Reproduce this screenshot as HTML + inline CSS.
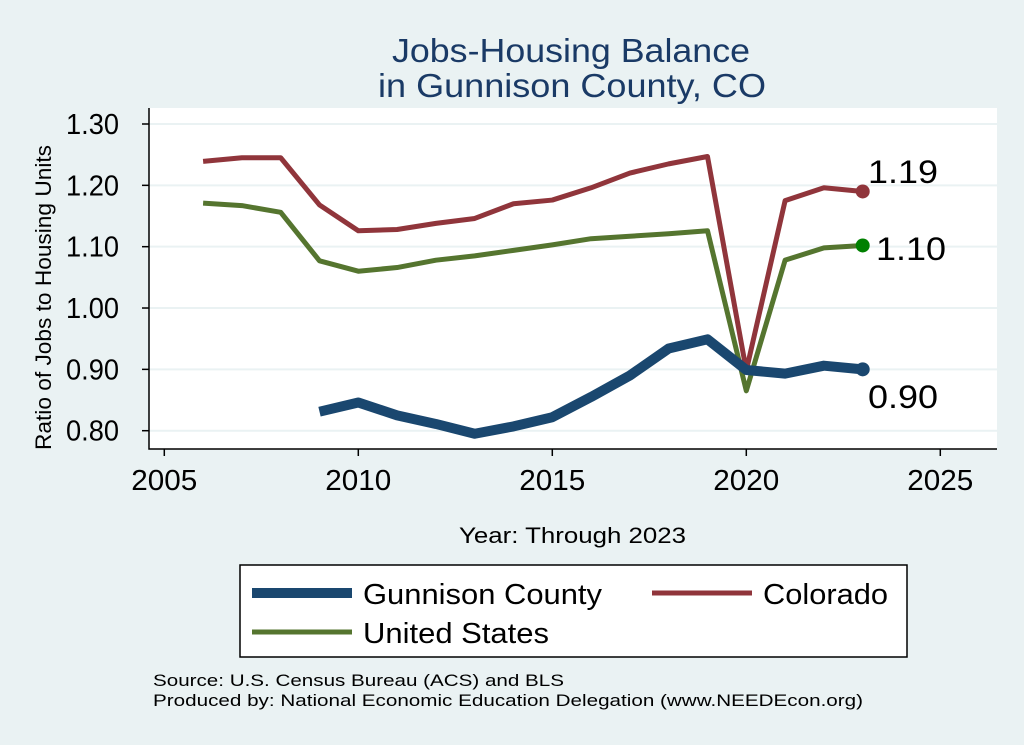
<!DOCTYPE html>
<html><head><style>body{margin:0;background:#eaf2f3}svg{display:block}text{font-family:"Liberation Sans",sans-serif}</style></head><body>
<svg id="s" width="1024" height="745" xmlns="http://www.w3.org/2000/svg">
<rect width="1024" height="745" fill="#eaf2f3"/>
<text x="392" y="62" font-size="33" fill="#1a3a66" textLength="358" lengthAdjust="spacingAndGlyphs">Jobs-Housing Balance</text>
<text x="378" y="97" font-size="33" fill="#1a3a66" textLength="388" lengthAdjust="spacingAndGlyphs">in Gunnison County, CO</text>
<rect x="149" y="108" width="848" height="341" fill="#fff"/>
<g id="grid" stroke="#eaf2f3" stroke-width="2"></g>
<path d="M149 108V449H997" fill="none" stroke="#000" stroke-width="1.5"/>
<g id="ticks"></g>
<g id="lines" fill="none" stroke-linejoin="round"></g>
<text x="51" y="450" font-size="22" transform="rotate(-90 51 450)" textLength="305" lengthAdjust="spacingAndGlyphs">Ratio of Jobs to Housing Units</text>
<text x="459" y="543" font-size="22" textLength="227" lengthAdjust="spacingAndGlyphs">Year: Through 2023</text>
<rect x="240" y="565" width="667" height="92" fill="#fff" stroke="#000" stroke-width="1.5"/>
<line x1="252" y1="593" x2="352" y2="593" stroke="#1a476f" stroke-width="10"/>
<text x="363" y="604" font-size="29" textLength="239" lengthAdjust="spacingAndGlyphs">Gunnison County</text>
<line x1="652" y1="593" x2="752" y2="593" stroke="#90353b" stroke-width="5"/>
<text x="763" y="604" font-size="29" textLength="125" lengthAdjust="spacingAndGlyphs">Colorado</text>
<line x1="252" y1="632" x2="352" y2="632" stroke="#55752f" stroke-width="5"/>
<text x="363" y="643" font-size="29" textLength="186" lengthAdjust="spacingAndGlyphs">United States</text>
<text x="153" y="686" font-size="17" textLength="411" lengthAdjust="spacingAndGlyphs">Source: U.S. Census Bureau (ACS) and BLS</text>
<text x="153" y="706" font-size="17" textLength="710" lengthAdjust="spacingAndGlyphs">Produced by: National Economic Education Delegation (www.NEEDEcon.org)</text>
</svg>
<script>
const X=y=>164.3+(y-2005)*38.8, Y=v=>124+(1.30-v)*613.4;
const ns="http://www.w3.org/2000/svg";
function el(p,t,a,txt){const e=document.createElementNS(ns,t);for(const k in a)e.setAttribute(k,a[k]);if(txt)e.textContent=txt;document.getElementById(p).appendChild(e);}
for(let i=0;i<6;i++){const v=0.8+i*0.1,y=Y(v);el("grid","line",{x1:149,x2:997,y1:y,y2:y});
el("ticks","line",{x1:142,x2:149,y1:y,y2:y,stroke:"#000","stroke-width":1.5});
el("ticks","text",{x:66,y:y+10,"font-size":29,textLength:53,lengthAdjust:"spacingAndGlyphs"},v.toFixed(2));}
for(let yr=2005;yr<=2025;yr+=5){const x=X(yr);el("ticks","line",{x1:x,x2:x,y1:449,y2:456,stroke:"#000","stroke-width":1.5});
el("ticks","text",{x:x-33,y:490,"font-size":29,textLength:66,lengthAdjust:"spacingAndGlyphs"},yr);}
const co=[1.239,1.245,1.245,1.168,1.126,1.128,1.138,1.146,1.170,1.176,1.196,1.220,1.235,1.247,0.898,1.175,1.196,1.19];
const us=[1.171,1.167,1.156,1.077,1.060,1.066,1.078,1.085,1.094,1.103,1.113,1.117,1.121,1.126,0.865,1.078,1.098,1.102];
const gu=[0.831,0.846,0.825,0.811,0.795,0.807,0.822,0.855,0.890,0.934,0.949,0.899,0.893,0.906,0.900];
function line(d,s,c,w,dc){el("lines","polyline",{points:d.map((v,i)=>X(s+i)+","+Y(v)).join(" "),stroke:c,"stroke-width":w});
el("lines","circle",{cx:X(2023),cy:Y(d[d.length-1]),r:7,fill:dc,stroke:"none"});}
line(co,2006,"#90353b",5,"#90353b");line(us,2006,"#55752f",5,"#008000");line(gu,2009,"#1a476f",10,"#1a476f");
el("ticks","text",{x:868,y:183,"font-size":32,textLength:70,lengthAdjust:"spacingAndGlyphs"},"1.19");
el("ticks","text",{x:876,y:260,"font-size":32,textLength:70,lengthAdjust:"spacingAndGlyphs"},"1.10");
el("ticks","text",{x:868,y:408,"font-size":32,textLength:70,lengthAdjust:"spacingAndGlyphs"},"0.90");
</script>
</body></html>
